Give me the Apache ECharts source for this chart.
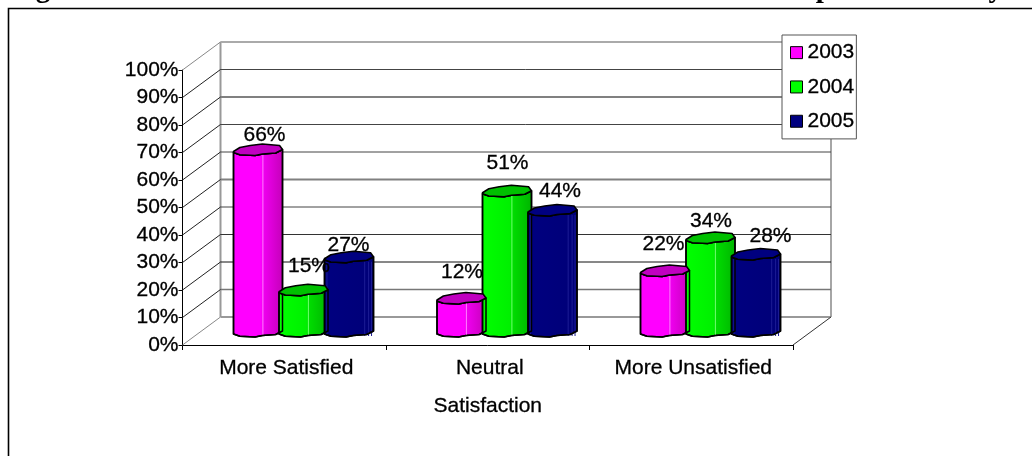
<!DOCTYPE html>
<html><head><meta charset="utf-8">
<style>html,body{margin:0;padding:0;background:#fff;overflow:hidden}#c{width:1032px;height:456px}</style>
<script src="https://cdn.jsdelivr.net/npm/echarts@6/dist/echarts.min.js"></script>
</head><body><div id="c"></div>
<script>
const categories = ['More Satisfied', 'Neutral', 'More Unsatisfied'];
const seriesNames = ['2003', '2004', '2005'];
const values2003 = [66, 12, 22];
const values2004 = [15, 51, 34];
const values2005 = [27, 44, 28];
const yTicks = [0,10,20,30,40,50,60,70,80,90,100];
const titleText = 'Figure 6.11:              Three Year Trend in Job Satisfaction as Compared to Last year';
const FONT = '"Liberation Sans", Arial, sans-serif';

// styling / layout constants
const DEPTH = [38, -28];           // back wall offset
const BAR_BASE_LIFT = 8;           // bars sit this far behind the front axis
const BAR_W = 49, BAR_STEP = 45.5, BAR_START = 51;
const gridStroke = {0:['#999',2],10:['#777',1.5],20:['#111',1],30:['#333',1],40:['#444',1],50:['#808080',2],60:['#444',1],70:['#444',1],80:['#808080',2],90:['#444',1],100:['#aaaaaa',2]};
const palette = [
  {top:'#c000c0', stops:[[0,'#ff00ff'],[0.55,'#ff00ff'],[0.62,'#ee00ee'],[1,'#c400b8']], facet:'#ff80ff', facets:[0.6]},
  {top:'#00c000', stops:[[0,'#00ff00'],[0.55,'#00f000'],[0.62,'#00dc00'],[1,'#00b400']], facet:'#70ff70', facets:[0.6]},
  {top:'#000080', stops:[[0,'#000080'],[1,'#000078']], facet:'#1c1c94', facets:[0.05,0.82,0.9,0.96]}
];
const legendColor = ['#ff00ff','#00ff00','#000080'];
// label nudges per series / category: [dx from bar left, dy above the bar top]
const labelNudge = [
  [[31,20],[25,32],[23,32]],
  [[30,30],[25,34],[25,22]],
  [[24,18],[32,25],[39,24]]
];
// cylinder outline, fractions of width / px offset from front-low point
const frontCurve = [[0,-3],[0.13,-0.8],[0.44,0],[0.59,-1.5],[0.86,-2.5],[1,-6]];
const backCurve = [[1,-6],[0.94,-10],[0.59,-11.5],[0.34,-10],[0.13,-8],[0,-4]];

function barRender(sIdx){
  return function(params, api){
    const cat = api.value(0), val = api.value(1);
    const top = api.coord([cat, val]);
    const base = api.coord([cat, 0]);
    const band = api.size([1,0])[0];
    const x0 = top[0] - band/2 + BAR_START + sIdx*BAR_STEP;
    const yT = top[1] - BAR_BASE_LIFT;
    const yB = base[1] - BAR_BASE_LIFT;
    const p = palette[sIdx];
    const pt = (c,y)=>[x0+c[0]*BAR_W, y+c[1]];
    const body = frontCurve.map(c=>pt(c,yT)).concat(frontCurve.slice().reverse().map(c=>pt(c,yB)));
    const lid = frontCurve.map(c=>pt(c,yT)).concat(backCurve.map(c=>pt(c,yT)));
    const facets = p.facets.map(f=>{
      const x = x0+f*BAR_W;
      return {type:'line',z2:2,silent:true,shape:{x1:x,y1:yT-1,x2:x,y2:yB-1},style:{stroke:p.facet,lineWidth:1}};
    });
    const n = labelNudge[sIdx][params.dataIndex];
    return {type:'group',children:[
      {type:'polygon',z2:1,shape:{points:body},style:{
        fill:{type:'linear',x:0,y:0,x2:1,y2:0,colorStops:p.stops.map(s=>({offset:s[0],color:s[1]}))},
        stroke:'#000',lineWidth:1.5,lineJoin:'round'}},
      ...facets,
      {type:'polygon',z2:3,shape:{points:body},style:{fill:'none',stroke:'#000',lineWidth:1.5,lineJoin:'round'}},
      {type:'polygon',z2:4,shape:{points:lid},style:{fill:p.top,stroke:'#000',lineWidth:1.5,lineJoin:'round'}},
      {type:'text',z2:100,style:{text:val+'%',x:x0+n[0],y:yT-n[1],align:'center',verticalAlign:'middle',font:'21px '+FONT,fill:'#000',stroke:'#000',lineWidth:0.3}}
    ]};
  };
}
function wallRender(params, api){
  const t = api.value(0);
  const cats = categories.length;
  const a = api.coord([0,t]), b = api.coord([cats-1,t]);
  const band = api.size([1,0])[0];
  const xL = a[0]-band/2, xR = b[0]+band/2, y = a[1];
  const st = gridStroke[t];
  const kids = [
    {type:'line',shape:{x1:xL+DEPTH[0],y1:y+DEPTH[1],x2:xR+DEPTH[0],y2:y+DEPTH[1]},style:{stroke:st[0],lineWidth:st[1]}},
    {type:'line',shape:{x1:xL,y1:y,x2:xL+DEPTH[0],y2:y+DEPTH[1]},style:{stroke:(t===0||t===100)?'#888':'#222',lineWidth:1}}
  ];
  if(t===0){
    const top = api.coord([0,100])[1];
    kids.push({type:'line',shape:{x1:xL+DEPTH[0],y1:y+DEPTH[1],x2:xL+DEPTH[0],y2:top+DEPTH[1]},style:{stroke:'#999',lineWidth:2}});
    kids.push({type:'line',shape:{x1:xR+DEPTH[0],y1:y+DEPTH[1],x2:xR+DEPTH[0],y2:top+DEPTH[1]},style:{stroke:'#888',lineWidth:1.5}});
    kids.push({type:'line',shape:{x1:xR,y1:y,x2:xR+DEPTH[0],y2:y+DEPTH[1]},style:{stroke:'#333',lineWidth:1}});
  }
  return {type:'group',children:kids};
}
const barSeries = [values2003,values2004,values2005].map((vals,i)=>({
  name:seriesNames[i],type:'custom',renderItem:barRender(i),clip:false,z:3,
  itemStyle:{color:legendColor[i]},encode:{x:0,y:1},
  data:vals.map((v,c)=>[c,v])
}));
const boldish = {textBorderColor:'#000',textBorderWidth:0.3};
const chart = echarts.init(document.getElementById('c'));
chart.setOption({
  animation:false,
  backgroundColor:'#fff',
  title:{text:titleText,left:10,top:-25,padding:0,textStyle:{fontFamily:'"Liberation Serif",serif',fontWeight:'bold',fontSize:29,color:'#000'}},
  grid:{left:182.5,top:70,width:610.5,height:275,containLabel:false},
  legend:{orient:'vertical',left:782,top:35,width:76,height:101,padding:[7,2,7,8],itemGap:13,itemWidth:12,itemHeight:12,
    data:seriesNames,icon:'rect',backgroundColor:'#fff',borderColor:'#555',borderWidth:1,
    itemStyle:{borderColor:'#000',borderWidth:1},textStyle:{fontFamily:FONT,fontSize:21,color:'#000',padding:[0,0,0,0],...boldish},z:10},
  xAxis:{type:'category',data:categories,boundaryGap:true,
    axisLine:{lineStyle:{color:'#000',width:1}},axisTick:{show:true,length:5,lineStyle:{color:'#000'}},
    axisLabel:{fontFamily:FONT,fontSize:21,color:'#000',margin:13,interval:0,padding:[0,0,0,4],...boldish},
    name:'Satisfaction',nameLocation:'middle',nameGap:51,nameTextStyle:{fontFamily:FONT,fontSize:21,color:'#000',...boldish},splitLine:{show:false}},
  yAxis:{type:'value',min:0,max:100,interval:10,
    axisLine:{show:true,lineStyle:{color:'#000',width:1}},axisTick:{show:true,length:4,lineStyle:{color:'#000'}},
    axisLabel:{fontFamily:FONT,fontSize:21,color:'#000',margin:4,formatter:'{value}%',...boldish},splitLine:{show:false}},
  graphic:[{type:'polyline',silent:true,z:20,shape:{points:[[8.5,456],[8.5,8.5],[1032,8.5]]},style:{fill:'none',stroke:'#000',lineWidth:1.6}}],
  series:[{type:'custom',name:'walls',renderItem:wallRender,clip:false,z:1,silent:true,encode:{y:0},data:yTicks.map(t=>[t])},...barSeries]
});
</script></body></html>
